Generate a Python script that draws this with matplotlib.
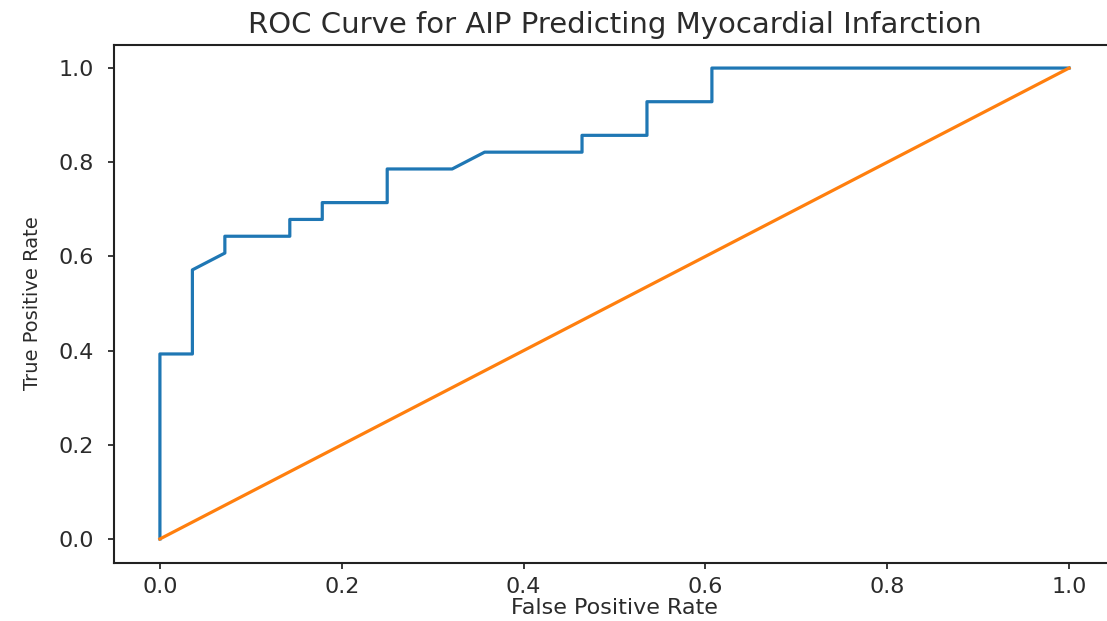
import numpy as np
import matplotlib
matplotlib.use('Agg')
import matplotlib.pyplot as plt

# ROC points (28 negatives, 28 positives)
fpr = [0, 0, 1/28, 1/28, 2/28, 2/28, 4/28, 4/28, 5/28, 5/28, 7/28, 7/28,
       9/28, 10/28, 13/28, 13/28, 15/28, 15/28, 17/28, 17/28, 1]
tpr = [0, 11/28, 11/28, 16/28, 17/28, 18/28, 18/28, 19/28, 19/28, 20/28, 20/28, 22/28,
       22/28, 23/28, 23/28, 24/28, 24/28, 26/28, 26/28, 1, 1]
diag = [0, 1]

txt = '#2b2b2b'
fig = plt.figure(figsize=(11.07, 6.21), dpi=100)
ax = fig.add_axes([0.1034, 0.0942, 0.9034, 0.8341])
ax.plot(fpr, tpr, color='#1f77b4', lw=2.3)
ax.plot(diag, diag, color='#ff7f0e', lw=2.3)
ax.set_xlim(-0.05, 1.05)
ax.set_ylim(-0.05, 1.05)
ax.set_xticks(np.arange(0, 1.01, 0.2))
ax.set_yticks(np.arange(0, 1.01, 0.2))
ax.tick_params(labelsize=16, length=4.5, width=1.3, colors=txt)
ax.tick_params(axis='y', pad=10)
ax.tick_params(axis='x', pad=6)
for s in ax.spines.values():
    s.set_linewidth(1.5)
    s.set_color('#222222')
ax.set_xlabel('False Positive Rate', fontsize=16, labelpad=1, color=txt)
ax.set_ylabel('True Positive Rate', fontsize=14, labelpad=12, color=txt)
ax.set_title('ROC Curve for AIP Predicting Myocardial Infarction', fontsize=21, pad=8, color=txt)
fig.savefig('out.png', dpi=100)
